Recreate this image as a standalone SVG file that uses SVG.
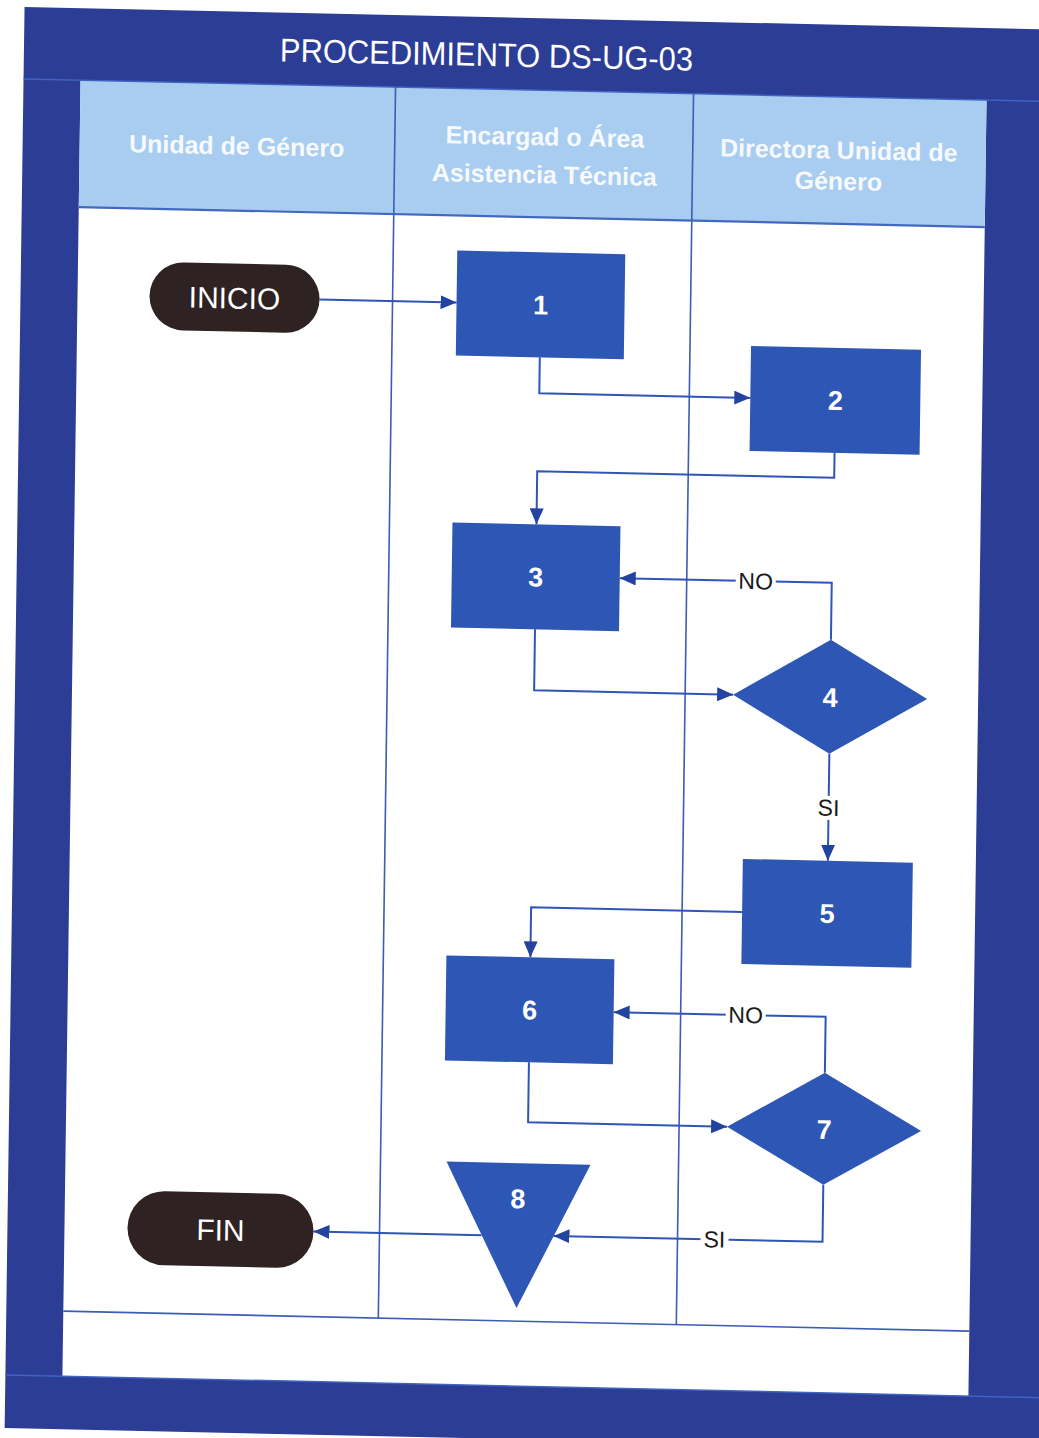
<svg xmlns="http://www.w3.org/2000/svg" width="1039" height="1438" viewBox="0 0 1039 1438">
<defs>
<style>
.frame{fill:#2b3d95}
.hdr{fill:#a9cdf0}
.lane{stroke:#3b5db3;stroke-width:1.6;fill:none}
.node{fill:#2d56b5}
.term{fill:#2e2222}
.conn{stroke:#2f55b5;stroke-width:2;fill:none;marker-end:url(#arr)}
.num{font-family:"Liberation Sans",Arial,sans-serif;font-weight:bold;font-size:27px;fill:#ffffff;text-anchor:middle}
.tt{font-family:"Liberation Sans",Arial,sans-serif;font-size:30px;fill:#ffffff;text-anchor:middle}
.lbl{font-family:"Liberation Sans",Arial,sans-serif;font-size:23px;fill:#1a1a1a;text-anchor:middle}
.lh{font-family:"Liberation Sans",Arial,sans-serif;font-weight:bold;font-size:25px;fill:#f6f9fd;text-anchor:middle}
.title{font-family:"Liberation Sans",Arial,sans-serif;font-size:33px;fill:#ffffff}
</style>
<marker id="arr" markerWidth="16" markerHeight="14" refX="16" refY="7" orient="auto" markerUnits="userSpaceOnUse">
<path d="M0,0 L16,7 L0,14 Z" fill="#2243a0"/>
</marker>
</defs>
<rect x="0" y="0" width="1039" height="1438" fill="#ffffff"/>
<g transform="matrix(1 0.022 -0.014 1 9.8 -11.44)">
<g id="frame">
<rect class="frame" x="15" y="18" width="1040" height="1421"/>
<rect x="72" y="90" width="906" height="1296" fill="#ffffff"/>
<rect class="hdr" x="72" y="90" width="906" height="127"/>
<line x1="15" y1="90" x2="1055" y2="90" stroke="#3f63c0" stroke-width="1.5"/>
<line x1="15" y1="1386" x2="1055" y2="1386" stroke="#3f63c0" stroke-width="1.5"/>
<text class="title" x="271" y="67" textLength="413" lengthAdjust="spacingAndGlyphs">PROCEDIMIENTO DS-UG-03</text>
</g>
<g id="lanes">
<line class="lane" x1="387" y1="90" x2="387" y2="1321"/>
<line class="lane" x1="685" y1="90" x2="685" y2="1321"/>
<line x1="72" y1="217" x2="978" y2="217" stroke="#4268c0" stroke-width="2.2"/>
<line class="lane" x1="72" y1="1321" x2="978" y2="1321"/>
<text class="lh" x="229" y="161">Unidad de Género</text>
<text class="lh" x="537" y="145">Encargad o Área</text>
<text class="lh" x="537" y="183">Asistencia Técnica</text>
<text class="lh" x="831" y="152">Directora Unidad de</text>
<text class="lh" x="831" y="183">Género</text>
</g>
<g id="connectors">
<path class="conn" d="M314 304 H451"/>
<path class="conn" d="M535 357 V393 H746"/>
<path class="conn" d="M831 446 V471 H534 V524"/>
<path class="conn" d="M830 633 V576 H618"/>
<path class="conn" d="M534 629 V690 H733"/>
<path class="conn" d="M830 747 V854"/>
<path class="conn" d="M745 907 H534 V957"/>
<path class="conn" d="M830 1066 V1010 H618"/>
<path class="conn" d="M534 1062 V1122 H733"/>
<path class="conn" d="M830 1178 V1235 H561"/>
<path class="conn" d="M489 1236 H321"/>
<rect x="734" y="564" width="40" height="24" fill="#ffffff"/>
<text class="lbl" x="754" y="584">NO</text>
<rect x="816" y="789" width="28" height="24" fill="#ffffff"/>
<text class="lbl" x="830" y="809">SI</text>
<rect x="730" y="998" width="40" height="24" fill="#ffffff"/>
<text class="lbl" x="750" y="1018">NO</text>
<rect x="708" y="1223" width="28" height="24" fill="#ffffff"/>
<text class="lbl" x="722" y="1243">SI</text>
</g>
<g id="n-inicio">
<rect class="term" x="144" y="270" width="170" height="68" rx="34"/>
<text class="tt" x="229" y="315">INICIO</text>
</g>
<g id="n1">
<rect class="node" x="451" y="252" width="168" height="105"/>
<text class="num" x="535" y="314">1</text>
</g>
<g id="n2">
<rect class="node" x="746" y="341" width="170" height="105"/>
<text class="num" x="831" y="403">2</text>
</g>
<g id="n3">
<rect class="node" x="450" y="524" width="168" height="105"/>
<text class="num" x="534" y="586">3</text>
</g>
<g id="n4">
<polygon class="node" points="733,690 830,633 927,690 830,747"/>
<text class="num" x="830" y="700">4</text>
</g>
<g id="n5">
<rect class="node" x="745" y="854" width="170" height="105"/>
<text class="num" x="830" y="916">5</text>
</g>
<g id="n6">
<rect class="node" x="450" y="957" width="168" height="105"/>
<text class="num" x="534" y="1019">6</text>
</g>
<g id="n7">
<polygon class="node" points="733,1122 830,1066 927,1122 830,1178"/>
<text class="num" x="830" y="1132">7</text>
</g>
<g id="n8">
<polygon class="node" points="453,1163 597,1163 525,1308"/>
<text class="num" x="525" y="1208">8</text>
</g>
<g id="n-fin">
<rect class="term" x="135" y="1199" width="186" height="74" rx="37"/>
<text class="tt" x="228" y="1247">FIN</text>
</g>
</g>
</svg>
